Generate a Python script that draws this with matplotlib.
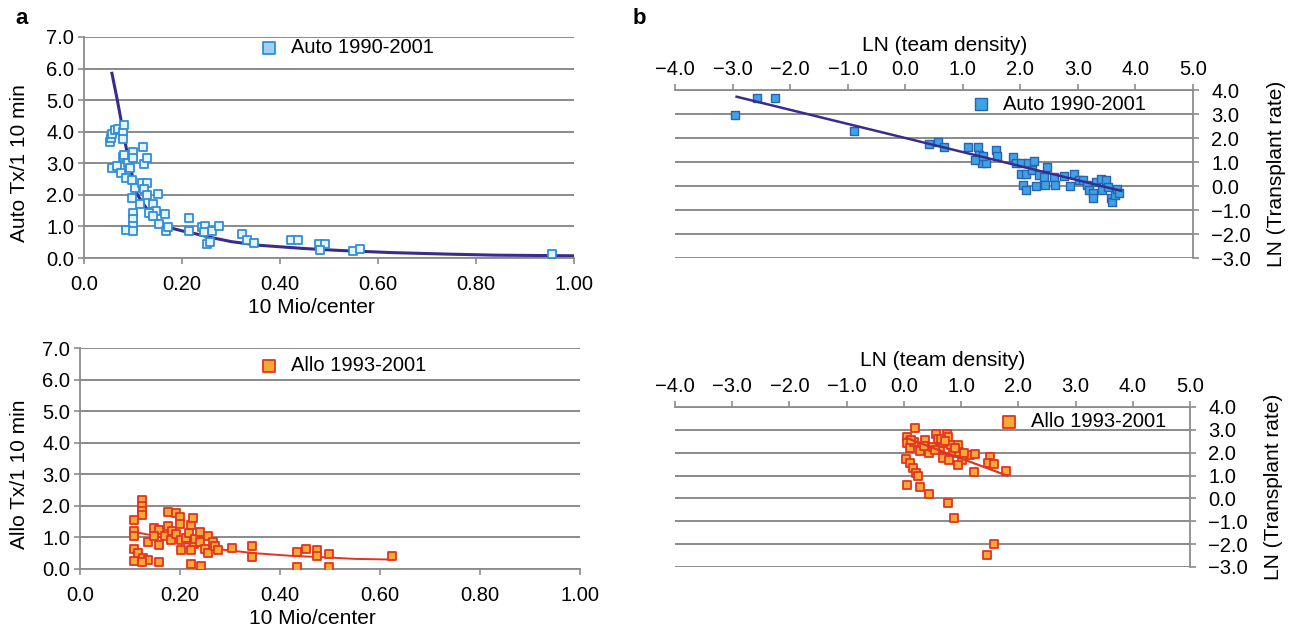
"""
Auto and allo transplant rates versus population per center (a) and
team density on a log scale (b).
"""
import matplotlib
matplotlib.use("Agg")
import matplotlib.pyplot as plt
from matplotlib.ticker import FuncFormatter, MultipleLocator

plt.rcParams['font.family'] = ['Liberation Sans', 'DejaVu Sans']

W, H = 1295, 633

# panel a, top: Auto 1990-2001 (10 Mio/center vs Tx/1 10 min)
auto_a_x = [0.054, 0.056, 0.057, 0.063, 0.070, 0.079, 0.079, 0.082, 0.057, 0.068,
            0.075, 0.079, 0.082, 0.086, 0.089, 0.093, 0.097, 0.100, 0.100, 0.104,
            0.097, 0.100, 0.100, 0.100, 0.086, 0.099, 0.120, 0.122, 0.128, 0.118,
            0.129, 0.122, 0.115, 0.129, 0.140, 0.150, 0.147, 0.133, 0.140, 0.154,
            0.165, 0.168, 0.172, 0.215, 0.215, 0.240, 0.247, 0.251, 0.258, 0.262,
            0.276, 0.244, 0.322, 0.333, 0.347, 0.423, 0.437, 0.480, 0.492, 0.481,
            0.548, 0.564, 0.956]
auto_a_y = [3.68, 3.80, 3.94, 4.04, 4.09, 3.99, 3.76, 4.20, 2.86, 2.90,
            2.69, 3.21, 3.26, 2.53, 3.00, 2.84, 2.48, 3.36, 3.16, 2.22,
            1.91, 1.44, 1.23, 1.02, 0.89, 0.86, 3.52, 2.97, 3.18, 2.37,
            2.37, 2.17, 1.70, 2.01, 1.70, 2.03, 1.49, 1.44, 1.33, 1.09,
            1.39, 0.86, 0.97, 1.26, 0.86, 0.99, 1.02, 0.45, 0.50, 0.86,
            1.02, 0.81, 0.76, 0.57, 0.47, 0.57, 0.57, 0.45, 0.45, 0.24,
            0.21, 0.27, 0.14]
auto_a_trend_x = [0.057, 0.068, 0.080, 0.092, 0.109, 0.135, 0.165, 0.20, 0.23,
                  0.25, 0.30, 0.36, 0.45, 0.52, 0.63, 0.75, 0.84, 1.00]
auto_a_trend_y = [5.85, 5.00, 4.00, 3.00, 2.00, 1.40, 1.00, 0.86, 0.76,
                  0.68, 0.52, 0.40, 0.30, 0.24, 0.17, 0.12, 0.09, 0.07]

# panel a, bottom: Allo 1993-2001
allo_a_x = [0.124, 0.124, 0.124, 0.124, 0.107, 0.107, 0.107, 0.107, 0.107, 0.116,
            0.126, 0.135, 0.123, 0.157, 0.147, 0.158, 0.157, 0.135, 0.147, 0.169,
            0.176, 0.176, 0.183, 0.181, 0.191, 0.191, 0.200, 0.200, 0.201, 0.201,
            0.211, 0.218, 0.222, 0.225, 0.227, 0.222, 0.222, 0.229, 0.239, 0.239,
            0.242, 0.249, 0.256, 0.256, 0.266, 0.270, 0.276, 0.304, 0.343, 0.343,
            0.433, 0.433, 0.451, 0.473, 0.473, 0.498, 0.498, 0.623]
allo_a_y = [2.17, 2.01, 1.85, 1.72, 1.56, 1.19, 1.05, 0.63, 0.26, 0.51,
            0.35, 0.27, 0.21, 0.21, 1.31, 1.22, 0.77, 0.87, 1.03, 1.03,
            1.79, 1.35, 1.19, 0.93, 1.77, 1.10, 1.66, 1.43, 0.93, 0.61,
            0.98, 1.14, 1.40, 1.61, 0.80, 0.61, 0.17, 0.95, 1.16, 0.87,
            0.08, 0.63, 1.03, 0.51, 0.87, 0.72, 0.61, 0.66, 0.72, 0.38,
            0.55, 0.05, 0.63, 0.59, 0.42, 0.48, 0.05, 0.40]
allo_a_trend_x = [0.10, 0.146, 0.21, 0.28, 0.35, 0.42, 0.49, 0.55, 0.625]
allo_a_trend_y = [1.20, 1.06, 0.82, 0.62, 0.50, 0.42, 0.37, 0.32, 0.30]

# panel b, top: LN(team density) vs LN(transplant rate), Auto
auto_b_x = [-2.95, -2.57, -2.26, -0.89, 0.41, 0.57, 0.67, 1.09, 1.27, 1.29,
            1.33, 1.22, 1.40, 1.36, 1.58, 1.59, 1.88, 1.93, 2.02, 2.02,
            2.14, 2.10, 2.23, 2.21, 2.05, 2.10, 2.28, 2.32, 2.47, 2.41,
            2.58, 2.61, 2.43, 2.76, 2.87, 2.94, 3.02, 3.09, 3.16, 3.20,
            3.27, 3.27, 3.31, 3.40, 3.42, 3.49, 3.53, 3.57, 3.59, 3.64,
            3.68, 3.71]
auto_b_y = [2.94, 3.65, 3.65, 2.30, 1.73, 1.82, 1.61, 1.61, 1.61, 1.29,
            0.94, 1.08, 0.97, 1.24, 1.52, 1.24, 1.22, 0.97, 0.94, 0.52,
            0.97, 0.52, 1.05, 0.66, 0.03, -0.15, -0.01, 0.45, 0.80, 0.38,
            0.38, 0.03, 0.03, 0.41, -0.01, 0.49, 0.24, 0.27, 0.03, -0.15,
            -0.31, -0.52, 0.17, 0.31, -0.15, 0.24, -0.03, -0.52, -0.66, -0.38,
            -0.11, -0.31]
auto_b_trend_x = [-2.93, 3.75]
auto_b_trend_y = [3.72, -0.20]

# panel b, bottom: Allo
allo_b_x = [0.20, 0.06, 0.06, 0.10, 0.18, 0.29, 0.37, 0.44, 0.50, 0.56,
            0.59, 0.63, 0.69, 0.69, 0.75, 0.77, 0.82, 0.86, 0.78, 0.94,
            0.97, 1.01, 1.15, 0.94, 1.24, 1.22, 1.51, 1.47, 1.58, 1.79,
            0.04, 0.10, 0.16, 0.22, 0.25, 0.06, 0.29, 0.44, 0.77, 0.88,
            1.58, 1.45, 0.12, 0.35, 0.65, 0.72, 0.90, 1.05, 0.55]
allo_b_y = [3.09, 2.70, 2.41, 2.19, 2.48, 2.07, 2.55, 1.97, 2.26, 2.84,
            2.62, 2.19, 2.41, 1.75, 2.84, 2.70, 2.33, 1.97, 1.68, 2.33,
            2.04, 1.68, 1.90, 1.46, 1.93, 1.14, 1.83, 1.54, 1.49, 1.20,
            1.72, 1.54, 1.32, 1.10, 0.96, 0.57, 0.48, 0.20, -0.20, -0.86,
            -2.01, -2.49, 2.55, 2.30, 2.60, 2.50, 2.20, 2.00, 2.10]
allo_b_trend_x = [0.04, 1.80]
allo_b_trend_y = [2.65, 1.00]

a_xticks = [0.0, 0.2, 0.4, 0.6, 0.8, 1.0]
a_xticklabels = ['0.0', '0.20', '0.40', '0.60', '0.80', '1.00']

BLUE_EDGE = '#2f8fd6'
BLUE_FILL = '#e6f3fc'
BLUE_SOLID = '#3da3e6'
BLUE_DARK = '#2a64b0'
ORANGE = '#f7a935'
RED = '#e53322'
TREND = '#3b2c8c'
GRID = '#8a8a8a'
SPINE = '#8c8c8c'


def px_axes(fig, left, top, right, bottom):
    return fig.add_axes([left / W, 1 - bottom / H, (right - left) / W, (bottom - top) / H])


def minus(v, _):
    return f"{v:.1f}".replace('-', '\u2212')


def style_a(ax, ylabel):
    ax.set_xlim(0, 1.0)
    ax.set_ylim(0, 7.0)
    ax.set_xticks(a_xticks)
    ax.set_xticklabels(a_xticklabels)
    ax.yaxis.set_major_locator(MultipleLocator(1.0))
    ax.yaxis.set_major_formatter(FuncFormatter(minus))
    for s in ['top', 'right']:
        ax.spines[s].set_visible(False)
    for s in ['left', 'bottom']:
        ax.spines[s].set_color(SPINE)
        ax.spines[s].set_linewidth(1.3)
    ax.yaxis.grid(True, color=GRID, lw=1.4)
    ax.set_axisbelow(True)
    ax.tick_params(direction='out', length=4, width=1.2, color=SPINE,
                   labelsize=14.5)
    ax.tick_params(axis='x', pad=8)
    ax.tick_params(axis='y', pad=3)
    pos = ax.get_position()
    ax_w, ax_h = pos.width * W, pos.height * H
    ax.set_xlabel('10 Mio/center', fontsize=15)
    ax.xaxis.set_label_coords(0.465, -40 / ax_h)
    ax.set_ylabel(ylabel, fontsize=15)
    ax.yaxis.set_label_coords((29 - pos.x0 * W) / ax_w, 0.43)


def style_b(ax, label_gap):
    ax.set_xlim(-4.0, 5.0)
    ax.set_ylim(-3.0, 4.0)
    ax.xaxis.set_major_locator(MultipleLocator(1.0))
    ax.yaxis.set_major_locator(MultipleLocator(1.0))
    ax.xaxis.set_major_formatter(FuncFormatter(minus))
    ax.yaxis.set_major_formatter(FuncFormatter(minus))
    ax.xaxis.tick_top()
    ax.xaxis.set_label_position('top')
    ax.yaxis.tick_right()
    ax.yaxis.set_label_position('right')
    for s in ['left', 'bottom']:
        ax.spines[s].set_visible(False)
    for s in ['top', 'right']:
        ax.spines[s].set_color(SPINE)
        ax.spines[s].set_linewidth(1.3)
    ax.yaxis.grid(True, color=GRID, lw=1.4)
    ax.set_axisbelow(True)
    ax.tick_params(direction='out', length=4, width=1.2, color=SPINE,
                   labelsize=14.5)
    ax.tick_params(axis='x', pad=4)
    ax.tick_params(axis='y', pad=9)
    pos = ax.get_position()
    ax_w, ax_h = pos.width * W, pos.height * H
    ax.set_xlabel('LN (team density)', fontsize=15)
    ax.xaxis.set_label_coords(0.52, 1.0 + label_gap / ax_h)
    ax.set_ylabel('LN (Transplant rate)', fontsize=15)
    ax.yaxis.set_label_coords(1.0 + 74 / ax_w, 0.5)


fig = plt.figure(figsize=(W / 100, H / 100), dpi=100)

# a top
ax1 = px_axes(fig, 84, 37, 574, 258)
style_a(ax1, 'Auto Tx/1 10 min')
ax1.plot(auto_a_trend_x, auto_a_trend_y, color=TREND, lw=2.2, zorder=2)
ax1.scatter(auto_a_x, auto_a_y, marker='s', s=34, facecolor=BLUE_FILL,
            edgecolor=BLUE_EDGE, linewidths=1.3, zorder=3, label='Auto 1990-2001')
leg1 = ax1.legend(loc='upper center', bbox_to_anchor=(0.525, 1.03), frameon=False,
                  fontsize=14.5, handletextpad=0.1, markerscale=1.5, borderaxespad=0)
leg1.legend_handles[0].set_facecolor('#9fd0f2')

# a bottom
ax2 = px_axes(fig, 80, 348, 580, 569)
style_a(ax2, 'Allo Tx/1 10 min')
ax2.plot(allo_a_trend_x, allo_a_trend_y, color=RED, lw=1.4, zorder=2)
ax2.scatter(allo_a_x, allo_a_y, marker='s', s=34, facecolor=ORANGE,
            edgecolor=RED, linewidths=1.3, zorder=3, label='Allo 1993-2001')
ax2.legend(loc='upper center', bbox_to_anchor=(0.515, 1.0), frameon=False,
           fontsize=14.5, handletextpad=0.1, markerscale=1.5, borderaxespad=0)

# b top
ax3 = px_axes(fig, 675, 90, 1193, 258)
style_b(ax3, 39)
ax3.plot(auto_b_trend_x, auto_b_trend_y, color=TREND, lw=1.8, zorder=4)
ax3.scatter(auto_b_x, auto_b_y, marker='s', s=34, facecolor=BLUE_SOLID,
            edgecolor=BLUE_DARK, linewidths=1.0, zorder=3, label='Auto 1990-2001')
ax3.legend(loc='upper right', bbox_to_anchor=(0.925, 1.02), frameon=False,
           fontsize=14.5, handletextpad=0.1, markerscale=1.5, borderaxespad=0)

# b bottom
ax4 = px_axes(fig, 675, 407, 1190, 567)
style_b(ax4, 41)
ax4.plot(allo_b_trend_x, allo_b_trend_y, color=RED, lw=1.6, zorder=4)
ax4.scatter(allo_b_x, allo_b_y, marker='s', s=34, facecolor=ORANGE,
            edgecolor=RED, linewidths=1.3, zorder=3, label='Allo 1993-2001')
ax4.legend(loc='upper right', bbox_to_anchor=(0.97, 1.02), frameon=False,
           fontsize=14.5, handletextpad=0.1, markerscale=1.5, borderaxespad=0)

fig.text(15 / W, 1 - 18 / H, 'a', fontsize=16, fontweight='bold', va='center')
fig.text(633 / W, 1 - 18 / H, 'b', fontsize=16, fontweight='bold', va='center')

fig.savefig('out.png', dpi=100)
